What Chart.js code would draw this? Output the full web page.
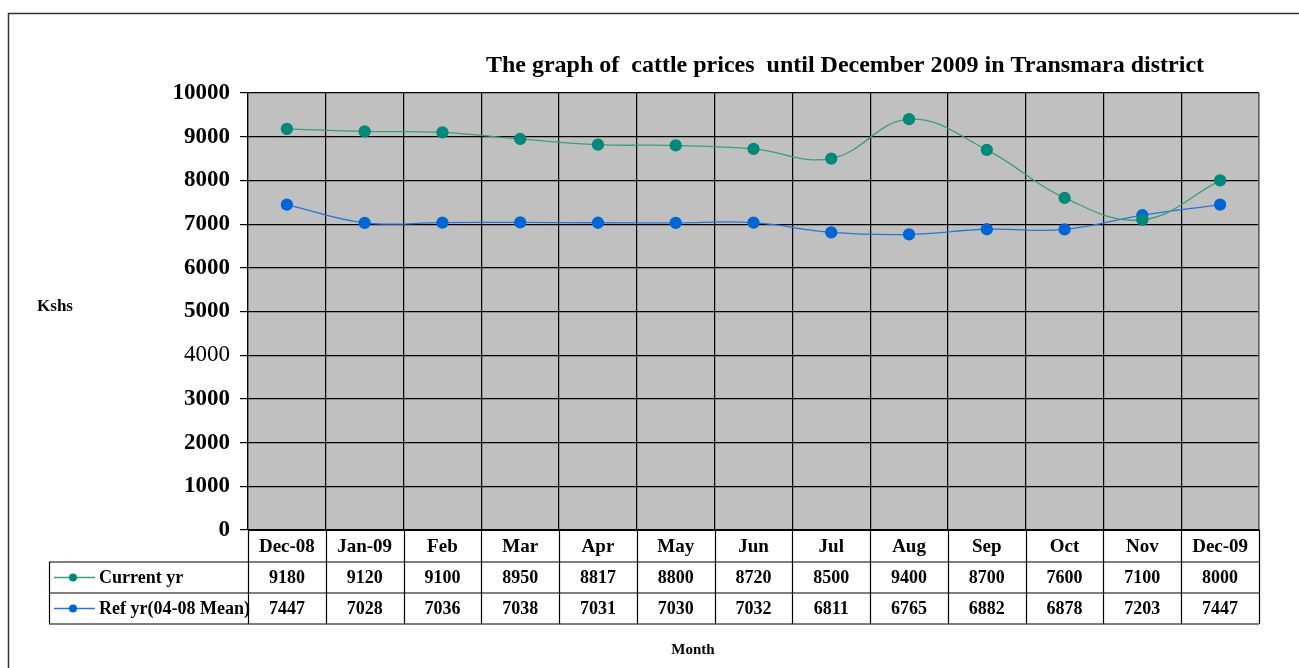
<!DOCTYPE html>
<html>
<head>
<meta charset="utf-8">
<script src="https://cdn.jsdelivr.net/npm/chart.js@4.4.1/dist/chart.umd.min.js"></script>
<style>
  html, body { margin: 0; padding: 0; background: #fff; }
  #wrap { width: 1299px; height: 668px; position: relative; }
</style>
</head>
<body>
<div id="wrap"><canvas id="c" width="1299" height="668"></canvas></div>
<script>
const months = ["Dec-08","Jan-09","Feb","Mar","Apr","May","Jun","Jul","Aug","Sep","Oct","Nov","Dec-09"];
const currentYr = [9180,9120,9100,8950,8817,8800,8720,8500,9400,8700,7600,7100,8000];
const refYr = [7447,7028,7036,7038,7031,7030,7032,6811,6765,6882,6878,7203,7447];
const seriesNames = ["Current yr","Ref yr(04-08 Mean)"];
const yTicks = [0,1000,2000,3000,4000,5000,6000,7000,8000,9000,10000];
const chartTitle = "The graph of  cattle prices  until December 2009 in Transmara district";
const yTitle = "Kshs";
const xTitle = "Month";

const FONT = "'Liberation Serif', 'Times New Roman', serif";
const GREEN_LINE = "#3a9f72", GREEN_PT = "#00897a";
const BLUE_LINE = "#2a74d6", BLUE_PT = "#0066d8";

const decorPlugin = {
  id: 'decor',
  beforeDraw(chart) {
    const ctx = chart.ctx, a = chart.chartArea;
    ctx.save();
    ctx.fillStyle = '#fff';
    ctx.fillRect(0, 0, chart.width, chart.height);
    ctx.strokeStyle = '#333';
    ctx.lineWidth = 1.5;
    ctx.beginPath();
    ctx.moveTo(1299, 13.5); ctx.lineTo(8.5, 13.5); ctx.lineTo(8.5, 668);
    ctx.stroke();
    ctx.fillStyle = '#c0c0c0';
    ctx.fillRect(a.left, a.top, a.right - a.left, a.bottom - a.top);
    ctx.restore();
  },
  afterDatasetsDraw(chart) {
    const ctx = chart.ctx, a = chart.chartArea, xs = chart.scales.x;
    ctx.save();
    ctx.strokeStyle = '#808080';
    ctx.lineWidth = 1.5;
    ctx.beginPath(); ctx.moveTo(a.right, a.top); ctx.lineTo(a.right, a.bottom); ctx.stroke();
    ctx.fillStyle = '#000';
    ctx.font = "bold 24px " + FONT;
    ctx.textAlign = 'center'; ctx.textBaseline = 'middle';
    ctx.fillText(chartTitle, 845, 66);
    ctx.font = "bold 17px " + FONT;
    ctx.fillText(yTitle, 55, 307);
    ctx.font = "bold 15px " + FONT;
    ctx.fillText(xTitle, 693, 650);

    const rowH = 31;
    const y0 = a.bottom, y1 = y0 + 32, y2 = y1 + rowH, y3 = y2 + rowH;
    const tableLeft = 49;
    const catW = (a.right - a.left) / months.length;
    ctx.strokeStyle = '#000';
    ctx.lineWidth = 1.2;
    ctx.beginPath();
    for (let i = 0; i <= months.length; i++) {
      const x = Math.round(a.left + i * catW) + 0.5;
      ctx.moveTo(x, y0); ctx.lineTo(x, y3);
    }
    ctx.moveTo(tableLeft, y1); ctx.lineTo(a.right, y1);
    ctx.moveTo(tableLeft, y2); ctx.lineTo(a.right, y2);
    ctx.moveTo(tableLeft, y3); ctx.lineTo(a.right, y3);
    ctx.moveTo(tableLeft + 0.5, y1); ctx.lineTo(tableLeft + 0.5, y3);
    ctx.stroke();
    ctx.lineWidth = 2;
    ctx.beginPath(); ctx.moveTo(a.left, y0); ctx.lineTo(a.right, y0); ctx.stroke();

    ctx.fillStyle = '#000';
    ctx.textAlign = 'center'; ctx.textBaseline = 'middle';
    ctx.font = "bold 19px " + FONT;
    months.forEach((m, i) => ctx.fillText(m, xs.getPixelForValue(i), (y0 + y1) / 2 + 1));
    ctx.font = "bold 18px " + FONT;
    currentYr.forEach((v, i) => ctx.fillText(String(v), xs.getPixelForValue(i), (y1 + y2) / 2 + 1));
    refYr.forEach((v, i) => ctx.fillText(String(v), xs.getPixelForValue(i), (y2 + y3) / 2 + 1));

    const keys = [[GREEN_LINE, GREEN_PT, (y1 + y2) / 2], [BLUE_LINE, BLUE_PT, (y2 + y3) / 2]];
    keys.forEach((k, i) => {
      ctx.strokeStyle = k[0]; ctx.lineWidth = 1.3;
      ctx.beginPath(); ctx.moveTo(54, k[2]); ctx.lineTo(95, k[2]); ctx.stroke();
      ctx.fillStyle = k[1];
      ctx.beginPath(); ctx.arc(73, k[2], 4, 0, Math.PI * 2); ctx.fill();
      ctx.fillStyle = '#000';
      ctx.textAlign = 'left';
      ctx.font = "bold 18px " + FONT;
      ctx.fillText(seriesNames[i], 99, k[2] + 1);
    });
    ctx.restore();
  }
};

new Chart(document.getElementById('c'), {
  type: 'line',
  data: {
    labels: months,
    datasets: [
      { label: seriesNames[0], data: currentYr, borderColor: GREEN_LINE, backgroundColor: GREEN_PT,
        pointBackgroundColor: GREEN_PT, pointBorderColor: GREEN_PT, pointRadius: 5.5, borderWidth: 1.3,
        tension: 0.4, fill: false },
      { label: seriesNames[1], data: refYr, borderColor: BLUE_LINE, backgroundColor: BLUE_PT,
        pointBackgroundColor: BLUE_PT, pointBorderColor: BLUE_PT, pointRadius: 5.5, borderWidth: 1.3,
        tension: 0.4, fill: false }
    ]
  },
  options: {
    responsive: false,
    animation: false,
    layout: { padding: { left: 0, right: 40, top: 93, bottom: 138 } },
    plugins: { legend: { display: false }, title: { display: false }, tooltip: { enabled: false } },
    scales: {
      x: {
        offset: true,
        grid: { offset: true, color: '#000', lineWidth: 1.2, drawTicks: false },
        border: { display: false },
        ticks: { display: false },
        afterFit(s) { s.height = 0; }
      },
      y: {
        min: 0, max: 10000,
        afterBuildTicks(s) { s.ticks = yTicks.map(v => ({ value: v })); },
        grid: { color: '#000', lineWidth: 1.2, tickLength: 8, drawTicks: true, tickColor: '#000' },
        border: { display: true, color: '#000', width: 1.2 },
        ticks: {
          padding: 10, color: '#000',
          callback: (v) => String(v),
          font: (c) => ({ family: FONT, size: 23, weight: (c.tick && c.tick.value === 4000) ? 'normal' : 'bold' })
        },
        afterFit(s) { s.width = 248; }
      }
    }
  },
  plugins: [decorPlugin]
});
</script>
</body>
</html>
